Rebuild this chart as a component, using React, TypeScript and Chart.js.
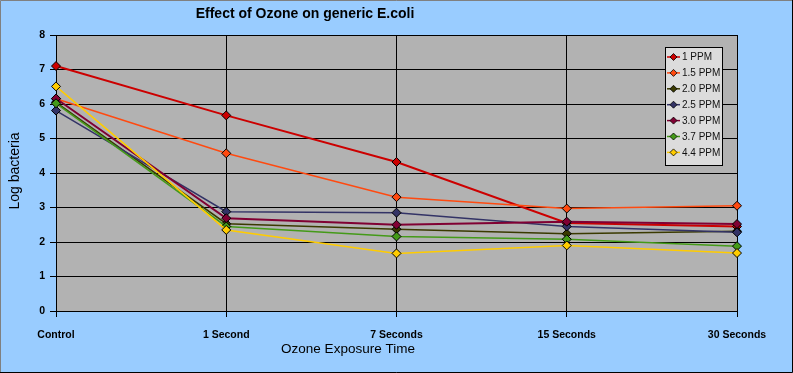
import React, { useEffect, useRef } from "react";
import { Chart, registerables } from "chart.js";

Chart.register(...registerables);

const categories = ["Control", "1 Second", "7 Seconds", "15 Seconds", "30 Seconds"];
const yTicks = [0, 1, 2, 3, 4, 5, 6, 7, 8];

const seriesNames = ["1 PPM", "1.5 PPM", "2.0 PPM", "2.5 PPM", "3.0 PPM", "3.7 PPM", "4.4 PPM"];
const ppm1 = [7.1, 5.67, 4.32, 2.55, 2.45];
const ppm15 = [6.15, 4.57, 3.3, 2.97, 3.05];
const ppm20 = [6.05, 2.53, 2.37, 2.24, 2.31];
const ppm25 = [5.81, 2.88, 2.85, 2.45, 2.28];
const ppm30 = [6.16, 2.69, 2.5, 2.59, 2.52];
const ppm37 = [6.02, 2.45, 2.16, 2.08, 1.88];
const ppm44 = [6.51, 2.35, 1.67, 1.9, 1.68];
const seriesColors = ["#CC0000", "#FF4A10", "#3A3A00", "#333366", "#800033", "#449A18", "#FFCC00"];
const seriesWidths = [2, 1.5, 1.5, 1.5, 2, 1.5, 1.5];

const chartTitle = "Effect of Ozone on generic E.coli";
const xTitle = "Ozone Exposure Time";
const yTitle = "Log bacteria";

const FONT = "Arial, 'Liberation Sans', sans-serif";

export default function App() {
  const ref = useRef<HTMLCanvasElement | null>(null);

  useEffect(() => {
    document.body.style.margin = "0";
    const canvas = ref.current!;
    const allData = [ppm1, ppm15, ppm20, ppm25, ppm30, ppm37, ppm44];

    const decor = {
      id: "decor",
      beforeDraw(chart: any) {
        const { ctx, chartArea } = chart;
        ctx.save();
        ctx.fillStyle = "#99CCFF";
        ctx.fillRect(0, 0, chart.width, chart.height);
        ctx.fillStyle = "#B2B2B2";
        ctx.fillRect(chartArea.left, chartArea.top, chartArea.right - chartArea.left, chartArea.bottom - chartArea.top);
        ctx.restore();
      },
      afterDraw(chart: any) {
        const { ctx } = chart;
        ctx.save();
        // title
        ctx.fillStyle = "#000";
        ctx.font = `bold 14px ${FONT}`;
        ctx.textAlign = "center";
        ctx.textBaseline = "middle";
        ctx.fillText(chartTitle, 305, 14);
        // axis titles
        ctx.font = `13.5px ${FONT}`;
        ctx.fillText(xTitle, 348, 349);
        ctx.save();
        ctx.translate(15, 171);
        ctx.rotate(-Math.PI / 2);
        ctx.font = `14px ${FONT}`;
        ctx.fillText(yTitle, 0, 0);
        ctx.restore();
        // legend
        const lx = 665, ly = 47, lw = 58, lh = 119;
        ctx.fillStyle = "#DCDCDC";
        ctx.fillRect(lx, ly, lw, lh);
        ctx.strokeStyle = "#000";
        ctx.lineWidth = 1;
        ctx.strokeRect(lx + 0.5, ly + 0.5, lw - 1, lh - 1);
        ctx.font = `10px ${FONT}`;
        ctx.textAlign = "left";
        seriesNames.forEach((name, i) => {
          const y = 57 + i * 15.9;
          ctx.strokeStyle = seriesColors[i];
          ctx.lineWidth = 1.5;
          ctx.beginPath();
          ctx.moveTo(667, y);
          ctx.lineTo(680, y);
          ctx.stroke();
          ctx.beginPath();
          ctx.moveTo(673.5, y - 3.5);
          ctx.lineTo(677, y);
          ctx.lineTo(673.5, y + 3.5);
          ctx.lineTo(670, y);
          ctx.closePath();
          ctx.fillStyle = seriesColors[i];
          ctx.fill();
          ctx.strokeStyle = "#000";
          ctx.lineWidth = 0.8;
          ctx.stroke();
          ctx.fillStyle = "#111";
          ctx.fillText(name, 682, y + 0.5);
        });
        // outer border
        ctx.lineWidth = 1;
        ctx.strokeStyle = "#808080";
        ctx.beginPath();
        ctx.moveTo(0.5, chart.height);
        ctx.lineTo(0.5, 0.5);
        ctx.lineTo(chart.width, 0.5);
        ctx.stroke();
        ctx.strokeStyle = "#000";
        ctx.beginPath();
        ctx.moveTo(0, chart.height - 0.5);
        ctx.lineTo(chart.width - 0.5, chart.height - 0.5);
        ctx.lineTo(chart.width - 0.5, 0);
        ctx.stroke();
        ctx.restore();
      },
    };

    const chart = new Chart(canvas, {
      type: "line",
      data: {
        labels: categories,
        datasets: allData.map((d, i) => ({
          label: seriesNames[i],
          data: d,
          borderColor: seriesColors[i],
          backgroundColor: seriesColors[i],
          borderWidth: seriesWidths[i],
          pointStyle: "rectRot",
          pointRadius: 4.5,
          pointBorderColor: "#000",
          pointBorderWidth: 1,
          pointBackgroundColor: seriesColors[i],
          tension: 0,
          fill: false,
          order: seriesNames.length - i,
        })),
      },
      options: {
        responsive: false,
        animation: false,
        devicePixelRatio: 1,
        layout: { padding: { left: 0, top: 35, right: 56, bottom: 0 } },
        plugins: { legend: { display: false }, title: { display: false }, tooltip: { enabled: false } },
        scales: {
          x: {
            type: "category",
            offset: false,
            grid: { color: "#000", lineWidth: 1, tickLength: 6, drawTicks: true },
            border: { color: "#000", width: 1 },
            ticks: {
              autoSkip: false,
              maxRotation: 0,
              minRotation: 0,
              padding: 12,
              color: "#000",
              font: { family: FONT, size: 10.5, weight: "bold" },
            },
            afterFit(scale: any) {
              scale.height = 62;
            },
          },
          y: {
            min: 0,
            max: 8,
            afterBuildTicks(scale: any) {
              scale.ticks = yTicks.map((v) => ({ value: v }));
            },
            grid: { color: "#000", lineWidth: 1, tickLength: 6 },
            border: { color: "#000", width: 1 },
            ticks: {
              padding: 5,
              color: "#000",
              font: { family: FONT, size: 10.5, weight: "bold" },
            },
            afterFit(scale: any) {
              scale.width = 56;
            },
          },
        },
      },
      plugins: [decor],
    } as any);
    return () => chart.destroy();
  }, []);

  return (
    <div style={{ width: 793, height: 373 }}>
      <canvas ref={ref} width={793} height={373} style={{ display: "block", width: 793, height: 373 }} />
    </div>
  );
}
